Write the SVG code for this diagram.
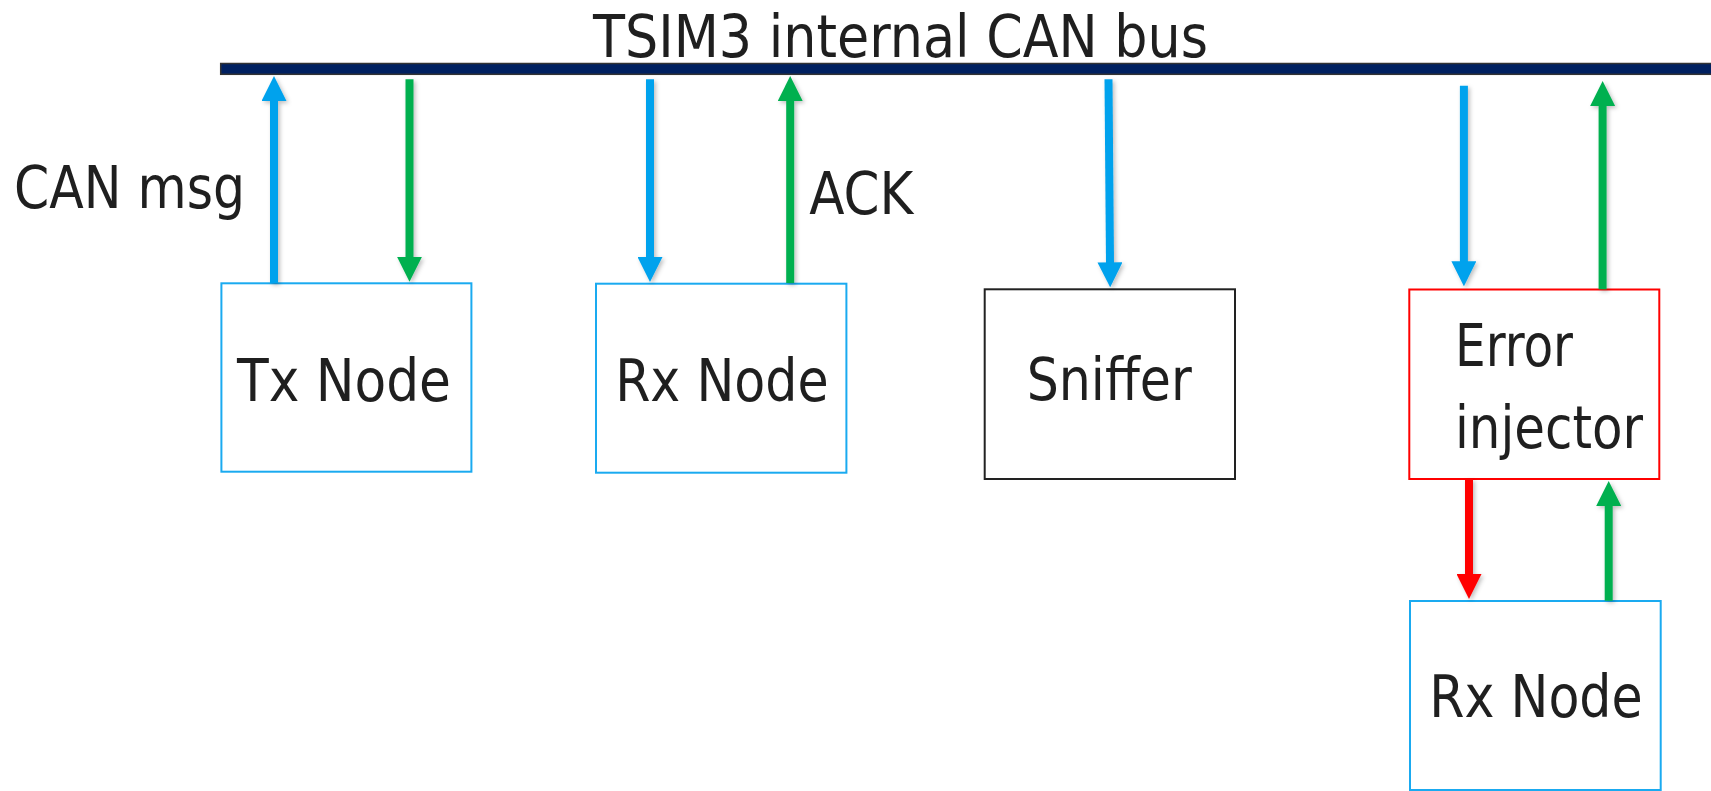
<svg xmlns="http://www.w3.org/2000/svg" width="1711" height="791" viewBox="0 0 1711 791">
<style>
  .lbl { font-family: "DejaVu Sans Condensed", "DejaVu Sans", "Liberation Sans", sans-serif; font-size: 58px; fill: #1f1f1f; }
  .box { fill: #ffffff; stroke-width: 2; }
  .blue-box { stroke: #1aaaf0; }
  .conn { stroke-width: 8; fill: none; filter: url(#sh); }
  .c-blue { stroke: #00a2ed; }
  .c-green { stroke: #00b050; }
  .c-red { stroke: #ff0000; }
</style>
<defs>
  <filter id="sh" filterUnits="userSpaceOnUse" x="0" y="0" width="1711" height="791">
    <feDropShadow dx="2" dy="2" stdDeviation="2" flood-color="#000000" flood-opacity="0.25"/>
  </filter>
  <marker id="ah-blue" viewBox="0 0 25 25" refX="1" refY="12.5" markerWidth="25" markerHeight="25" markerUnits="userSpaceOnUse" orient="auto">
    <path d="M0,0 L25,12.5 L0,25 z" fill="#00a2ed"/>
  </marker>
  <marker id="ah-green" viewBox="0 0 25 25" refX="1" refY="12.5" markerWidth="25" markerHeight="25" markerUnits="userSpaceOnUse" orient="auto">
    <path d="M0,0 L25,12.5 L0,25 z" fill="#00b050"/>
  </marker>
  <marker id="ah-red" viewBox="0 0 25 25" refX="1" refY="12.5" markerWidth="25" markerHeight="25" markerUnits="userSpaceOnUse" orient="auto">
    <path d="M0,0 L25,12.5 L0,25 z" fill="#ff0000"/>
  </marker>
</defs>
<rect width="1711" height="791" fill="#ffffff"/>

<g id="bus">
  <rect x="220.7" y="63.5" width="1495" height="10.8" fill="#002060" stroke="#333333" stroke-width="1.5"/>
  <text class="lbl" x="593" y="56.7" font-size="60" textLength="615" lengthAdjust="spacingAndGlyphs">TSIM3 internal CAN bus</text>
</g>

<g id="labels">
  <text class="lbl" x="14" y="208.3" textLength="231" lengthAdjust="spacingAndGlyphs">CAN msg</text>
  <text class="lbl" x="809.3" y="214" textLength="104" lengthAdjust="spacingAndGlyphs">ACK</text>
</g>

<g id="tx-node">
  <rect class="box blue-box" x="221.4" y="283.3" width="250" height="188.4"/>
  <text class="lbl" x="237" y="400.7" textLength="214" lengthAdjust="spacingAndGlyphs">Tx Node</text>
</g>

<g id="rx-node">
  <rect class="box blue-box" x="596" y="283.7" width="250.4" height="189"/>
  <text class="lbl" x="615.2" y="400.7" textLength="213.4" lengthAdjust="spacingAndGlyphs">Rx Node</text>
</g>

<g id="sniffer">
  <rect class="box" stroke="#222222" x="984.7" y="289.3" width="250.3" height="189.7"/>
  <text class="lbl" x="1026.7" y="400" textLength="165" lengthAdjust="spacingAndGlyphs">Sniffer</text>
</g>

<g id="error-injector">
  <rect class="box" stroke="#ff0000" x="1409.3" y="289.5" width="250" height="189.5"/>
  <text class="lbl" x="1455" y="366" textLength="118" lengthAdjust="spacingAndGlyphs">Error</text>
  <text class="lbl" x="1455" y="448.3" textLength="188" lengthAdjust="spacingAndGlyphs">injector</text>
</g>

<g id="rx-node-2">
  <rect class="box blue-box" x="1410" y="601" width="250.7" height="189"/>
  <text class="lbl" x="1429.3" y="716.7" textLength="213.4" lengthAdjust="spacingAndGlyphs">Rx Node</text>
</g>

<g id="connectors">
  <line class="conn c-blue" x1="274" y1="283" x2="274" y2="100" marker-end="url(#ah-blue)"/>
  <line class="conn c-green" x1="409.5" y1="79.3" x2="409.5" y2="257.7" marker-end="url(#ah-green)"/>
  <line class="conn c-blue" x1="650" y1="79.3" x2="650" y2="258" marker-end="url(#ah-blue)"/>
  <line class="conn c-green" x1="790.2" y1="283" x2="790.2" y2="100" marker-end="url(#ah-green)"/>
  <line class="conn c-blue" x1="1108.5" y1="79.3" x2="1110" y2="263.3" marker-end="url(#ah-blue)"/>
  <line class="conn c-blue" x1="1463.9" y1="85.7" x2="1463.9" y2="262.3" marker-end="url(#ah-blue)"/>
  <line class="conn c-green" x1="1602.6" y1="289.3" x2="1602.6" y2="105" marker-end="url(#ah-green)"/>
  <line class="conn c-red" x1="1469" y1="479" x2="1469" y2="575" marker-end="url(#ah-red)"/>
  <line class="conn c-green" x1="1608.7" y1="600.7" x2="1608.7" y2="505" marker-end="url(#ah-green)"/>
</g>
</svg>
